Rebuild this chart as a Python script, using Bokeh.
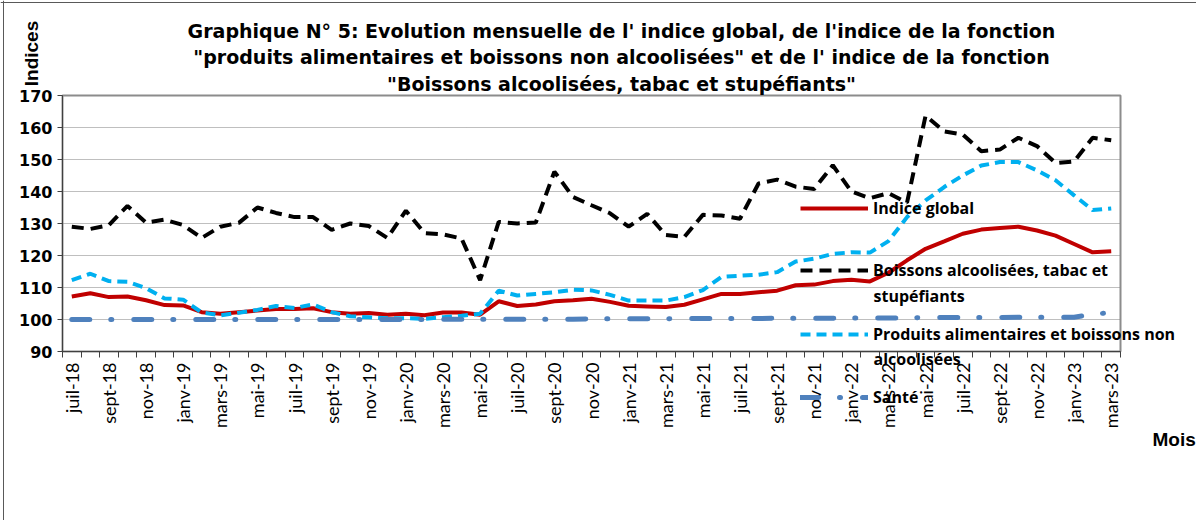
import math
from bokeh.plotting import figure
from bokeh.models import FixedTicker, Label, Legend, LegendItem, Range1d, ColumnDataSource, Span
from bokeh.embed import file_html
from bokeh.resources import INLINE

months = ["juil-18", "août-18", "sept-18", "oct-18", "nov-18", "déc-18",
          "janv-19", "févr-19", "mars-19", "avr-19", "mai-19", "juin-19",
          "juil-19", "août-19", "sept-19", "oct-19", "nov-19", "déc-19",
          "janv-20", "févr-20", "mars-20", "avr-20", "mai-20", "juin-20",
          "juil-20", "août-20", "sept-20", "oct-20", "nov-20", "déc-20",
          "janv-21", "févr-21", "mars-21", "avr-21", "mai-21", "juin-21",
          "juil-21", "août-21", "sept-21", "oct-21", "nov-21", "déc-21",
          "janv-22", "févr-22", "mars-22", "avr-22", "mai-22", "juin-22",
          "juil-22", "août-22", "sept-22", "oct-22", "nov-22", "déc-22",
          "janv-23", "févr-23", "mars-23"]

indice_global = [107.2, 108.2, 107.0, 107.2, 106.0, 104.5, 104.4, 102.3, 101.8, 102.3,
                 102.8, 103.3, 103.3, 103.5, 102.3, 101.8, 102.0, 101.5, 101.8, 101.3,
                 102.2, 102.2, 101.5, 105.7, 104.2, 104.7, 105.7, 106.0, 106.5, 105.5,
                 104.3, 104.1, 103.9, 104.6, 106.3, 108.0, 108.0, 108.5, 109.0, 110.7,
                 110.9, 112.0, 112.4, 111.9, 114.6, 118.5, 122.1, 124.4, 126.8, 128.1,
                 128.6, 129.0, 127.8, 126.2, 123.6, 121.0, 121.3]

boissons_alcool = [129.0, 128.3, 129.5, 135.5, 130.3, 131.2, 129.5, 125.5, 129.0, 130.2,
                   135.0, 133.3, 132.0, 132.0, 128.0, 130.0, 129.2, 125.5, 134.0, 127.0,
                   126.6, 125.3, 112.3, 130.5, 130.0, 130.3, 146.2, 138.3, 135.7, 133.2,
                   129.0, 133.0, 126.4, 125.8, 132.7, 132.5, 131.5, 142.5, 143.7, 141.5,
                   140.8, 148.2, 140.0, 137.9, 139.5, 136.5, 163.7, 158.8, 157.8, 152.6,
                   153.1, 156.8, 154.2, 148.9, 149.4, 156.8, 156.0]

produits_alim = [112.3, 114.3, 112.0, 111.8, 109.8, 106.6, 106.2, 102.2, 101.3, 102.1,
                 103.0, 104.2, 103.6, 104.7, 102.3, 101.0, 100.7, 100.4, 100.4, 100.2,
                 100.7, 101.2, 101.8, 109.0, 107.5, 108.0, 108.5, 109.3, 109.1, 107.7,
                 105.9, 105.9, 105.9, 107.0, 109.2, 113.3, 113.7, 114.0, 114.8, 118.1,
                 119.0, 120.5, 121.0, 120.9, 124.5, 132.0, 137.2, 141.4, 145.0, 148.1,
                 149.2, 149.2, 146.6, 143.5, 138.8, 134.2, 134.7]

sante = [100.0, 100.0, 100.0, 100.0, 100.0, 100.0, 100.0, 100.0, 100.0, 100.0,
         100.0, 100.0, 100.0, 100.0, 100.0, 100.0, 100.0, 100.0, 100.0, 100.0,
         100.1, 100.1, 100.1, 100.1, 100.1, 100.1, 100.1, 100.1, 100.2, 100.2,
         100.2, 100.2, 100.2, 100.3, 100.3, 100.3, 100.3, 100.3, 100.4, 100.4,
         100.4, 100.4, 100.5, 100.5, 100.5, 100.5, 100.6, 100.6, 100.6, 100.6,
         100.6, 100.7, 100.7, 100.7, 100.7, 101.6, 102.2]

y_ticks = [90, 100, 110, 120, 130, 140, 150, 160, 170]

title_lines = ["Graphique N° 5: Evolution mensuelle de l' indice global, de l'indice de la fonction",
               "\"produits alimentaires et boissons non alcoolisées\" et de l' indice de la fonction",
               "\"Boissons alcoolisées, tabac et stupéfiants\""]

legend_labels = ["Indice global", "Boissons alcoolisées, tabac et",
                 "Produits alimentaires et boissons non", "Santé"]
legend_second_lines = ["stupéfiants", "alcoolisées"]

W, H = 1196, 520

idx = list(range(len(months)))
src = ColumnDataSource(dict(x=idx, g=indice_global, b=boissons_alcool, p=produits_alim, s=sante))

p = figure(frame_width=1058, frame_height=256,
           min_border_left=62, min_border_top=95, min_border_right=W - 62 - 1058,
           min_border_bottom=H - 95 - 256,
           x_range=Range1d(-0.5, len(months) - 0.5), y_range=Range1d(90, 170),
           output_backend="svg", toolbar_location=None)
p.background_fill_color = "white"
p.border_fill_color = "white"
p.outline_line_color = "#8c8c8c"
p.outline_line_width = 2

p.xgrid.visible = False
p.ygrid.grid_line_color = "#7f7f7f"
p.ygrid.grid_line_dash = "1 1"
p.ygrid.grid_line_width = 1

# y axis
p.yaxis.ticker = FixedTicker(ticks=y_ticks)
p.yaxis.major_label_text_font = "DejaVu Sans"
p.yaxis.major_label_text_font_style = "bold"
p.yaxis.major_label_text_font_size = "16px"
p.yaxis.major_label_text_color = "black"
p.yaxis.major_tick_out = 5
p.yaxis.major_tick_in = 0
p.yaxis.minor_tick_line_color = None
p.yaxis.axis_line_color = "#404040"
p.yaxis.major_tick_line_color = "#404040"
p.yaxis.major_label_standoff = 5

# x axis
p.xaxis.ticker = FixedTicker(ticks=idx[::2], minor_ticks=[i - 0.5 for i in range(len(months) + 1)])
p.xaxis.major_label_overrides = {i: months[i] for i in idx[::2]}
p.xaxis.major_label_orientation = math.pi / 2
p.xaxis.major_label_text_font = "Lato"
p.xaxis.major_label_text_font_size = "18px"
p.xaxis.major_label_text_color = "black"
p.xaxis.major_tick_line_color = None
p.xaxis.major_tick_out = 6
p.xaxis.minor_tick_out = 6
p.xaxis.minor_tick_in = 0
p.xaxis.minor_tick_line_color = "#404040"
p.xaxis.axis_line_color = "#404040"
p.xaxis.major_label_standoff = 5

styles = [
    dict(line_color="#C00000", line_width=4),
    dict(line_color="black", line_width=4, line_dash="12 7"),
    dict(line_color="#00B0F0", line_width=4, line_dash="10 6"),
    dict(line_color="#4F81BD", line_width=5, line_dash="18 21 1 22", line_cap="round"),
]
for col, st in zip(["g", "b", "p", "s"], styles):
    p.line("x", col, source=src, **st)

# overlay figure (separate root, no frame alignment) for titles and legend text
q = figure(width=W, height=H, x_range=Range1d(0, W), y_range=Range1d(H, 0),
           min_border=0, x_axis_location=None, y_axis_location=None,
           output_backend="svg", toolbar_location=None)
q.grid.visible = False
q.outline_line_color = None
q.background_fill_alpha = 0
q.border_fill_alpha = 0
q.margin = (-H, 0, 0, 0)

q.add_layout(Span(location=3, dimension="height", line_color="#595959", line_width=1))
q.add_layout(Span(location=2, dimension="width", line_color="#595959", line_width=1))

lab_font = "Open Sans"
lab_size = "16px"
item_h = 22
legend_centers = [208, 270, 334, 397]
nan = float("nan")
for label, st, yc in zip(legend_labels, styles, legend_centers):
    # legend swatch only: a single NaN point, so nothing is drawn in the overlay itself
    r = q.line(x=[nan], y=[nan], **st)
    lg = Legend(items=[LegendItem(label=label, renderers=[r])],
                location=(800, H - yc - item_h / 2),
                glyph_width=68, glyph_height=item_h, label_height=item_h, label_standoff=5,
                padding=0, margin=0, spacing=0,
                border_line_alpha=0, background_fill_alpha=0,
                label_text_font=lab_font, label_text_font_size=lab_size,
                label_text_font_style="bold", label_text_color="black")
    q.add_layout(lg)

for txt, yy in zip(legend_second_lines, [295, 358]):
    q.add_layout(Label(x=873, y=yy, text=txt,
                       text_font=lab_font, text_font_size=lab_size, text_font_style="bold",
                       text_baseline="middle", text_align="left", text_color="black"))

for txt, yy in zip(title_lines, [30, 56.5, 83]):
    q.add_layout(Label(x=621, y=yy, text=txt,
                       text_font="DejaVu Sans", text_font_size="19px", text_font_style="bold",
                       text_baseline="alphabetic", text_align="center", text_color="black"))

q.add_layout(Label(x=31, y=53, text="Indices", angle=math.pi / 2,
                   text_font="Liberation Sans", text_font_size="19px", text_font_style="bold",
                   text_baseline="middle", text_align="center", text_color="black"))
q.add_layout(Label(x=1152, y=439, text="Mois",
                   text_font="Liberation Sans", text_font_size="19px", text_font_style="bold",
                   text_baseline="alphabetic", text_align="left", text_color="black"))

open("out.html", "w").write(file_html([p, q], INLINE))
